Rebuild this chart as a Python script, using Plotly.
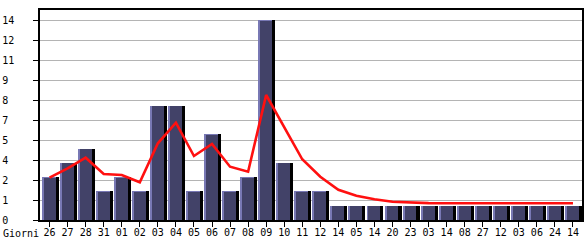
import plotly.graph_objects as go

days = ["26", "27", "28", "31", "01", "02", "03", "04", "05", "06", "07", "08", "09", "10", "11",
        "12", "14", "05", "14", "20", "23", "03", "14", "08", "27", "12", "03", "06", "24", "14"]
visits = [3, 4, 5, 2, 3, 2, 8, 8, 2, 6, 2, 3, 14, 4, 2,
          2, 1, 1, 1, 1, 1, 1, 1, 1, 1, 1, 1, 1, 1, 1]
trend = [2.96, 3.62, 4.36, 3.22, 3.15, 2.64, 5.37, 6.81, 4.48, 5.32, 3.73, 3.38, 8.75, 6.5, 4.25,
         3.03, 2.12, 1.7, 1.45, 1.28, 1.21, 1.18, 1.17, 1.17, 1.17, 1.17, 1.17, 1.17, 1.17, 1.17]
ytick_vals = [0, 1.4, 2.8, 4.2, 5.6, 7.0, 8.4, 9.8, 11.2, 12.6, 14.0]
ytick_text = ["0", "1", "2", "4", "5", "7", "8", "9", "11", "12", "14"]

xs = list(range(len(days)))
NB = "\u00a0"
ytext = [t + NB * (2 - len(t)) for t in ytick_text]

fig = go.Figure()
fig.add_trace(go.Bar(x=xs, y=visits, offset=-0.44, width=0.78,
                     marker=dict(color="#7878b4", line=dict(width=0)), hoverinfo="skip"))
fig.add_trace(go.Bar(x=xs, y=[v - 0.04 for v in visits], offset=-0.33, width=0.67,
                     marker=dict(color="#424268", line=dict(width=0))))
fig.add_trace(go.Bar(x=xs, y=visits, offset=0.33, width=0.17,
                     marker=dict(color="#000000", line=dict(width=0)), hoverinfo="skip"))
fig.add_trace(go.Scatter(x=xs, y=trend, mode="lines",
                         line=dict(color="#ff1010", width=2.6)))

font = dict(family="DejaVu Sans Mono", size=10, color="#000000")
fig.update_layout(
    width=585, height=240, margin=dict(l=40, r=3, t=10, b=20),
    barmode="overlay", bargap=0, showlegend=False,
    plot_bgcolor="#ffffff", paper_bgcolor="#ffffff", font=font,
    xaxis=dict(range=[-0.53, 29.5], tickvals=xs, ticktext=days, ticks="outside",
               ticklen=5, tickcolor="#000000", showgrid=False, zeroline=False,
               showline=True, linecolor="#000000", linewidth=1.5, mirror=True,
               tickfont=font, automargin=False, ticklabelstandoff=-3),
    yaxis=dict(range=[0, 14.7], tickvals=ytick_vals, ticktext=ytext, ticks="outside",
               ticklen=5, tickcolor="#000000", showgrid=True, gridcolor="#b4b4b4",
               gridwidth=1, zeroline=False, showline=True, linecolor="#000000",
               linewidth=1.5, mirror=True, tickfont=font, ticklabelstandoff=17,
               automargin=False),
    annotations=[dict(text="Giorni", xref="paper", yref="paper", x=-38/542, y=0,
                      xanchor="left", yanchor="top", showarrow=False, font=font,
                      yshift=-7, borderpad=0)],
)
fig.write_html("out.html")
